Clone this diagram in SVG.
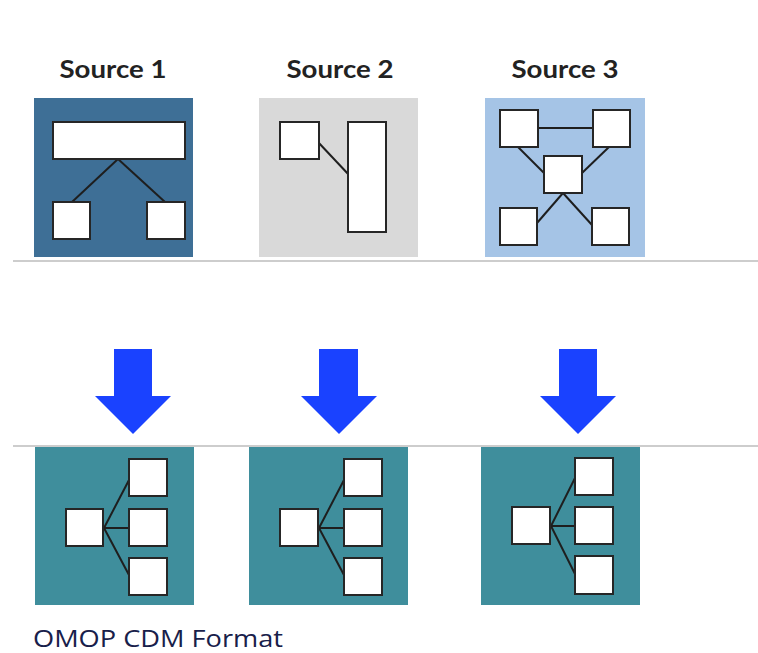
<svg xmlns="http://www.w3.org/2000/svg" width="758" height="653" viewBox="0 0 758 653">
  <defs>
    <style>
      .title { font-family: Lato, "Open Sans", sans-serif; font-weight: bold; font-size: 24px; fill: #222222; text-anchor: middle; }
      .caption { font-family: "Open Sans", "Noto Sans", sans-serif; font-size: 24px; fill: #18204a; }
      .box { fill: #ffffff; stroke: #262626; stroke-width: 2; }
      .link { stroke: #1e1e1e; stroke-width: 2; fill: none; }
      .sep { stroke: #bdbdbd; stroke-width: 1.3; }
      .arrow { fill: #1a42ff; }
      .omop { fill: #3f8e9c; }
    </style>
  </defs>
  <rect width="758" height="653" fill="#ffffff"/>

  <!-- separators -->
  <g id="separators">
    <line class="sep" x1="13" y1="261" x2="758" y2="261"/>
    <line class="sep" x1="13" y1="446" x2="758" y2="446"/>
  </g>

  <!-- Source 1: one wide table with two children -->
  <g id="source1">
    <text class="title" x="113" y="78" textLength="107" lengthAdjust="spacingAndGlyphs">Source 1</text>
    <rect x="34" y="98" width="159" height="159" fill="#3e6f96"/>
    <line class="link" x1="118" y1="159" x2="72" y2="202"/>
    <line class="link" x1="118" y1="159" x2="165" y2="202"/>
    <rect class="box" x="53" y="122" width="132" height="37"/>
    <rect class="box" x="53" y="202" width="37" height="37"/>
    <rect class="box" x="147" y="202" width="38" height="37"/>
  </g>

  <!-- Source 2: small table linked to a tall table -->
  <g id="source2">
    <text class="title" x="340" y="78" textLength="107" lengthAdjust="spacingAndGlyphs">Source 2</text>
    <rect x="259" y="98" width="159" height="159" fill="#d9d9d9"/>
    <line class="link" x1="318" y1="142" x2="349" y2="175"/>
    <rect class="box" x="280" y="122" width="39" height="37"/>
    <rect class="box" x="348" y="122" width="38" height="110"/>
  </g>

  <!-- Source 3: star of five tables -->
  <g id="source3">
    <text class="title" x="565" y="78" textLength="107" lengthAdjust="spacingAndGlyphs">Source 3</text>
    <rect x="485" y="98" width="160" height="159" fill="#a5c4e6"/>
    <line class="link" x1="538" y1="128" x2="593" y2="128"/>
    <line class="link" x1="518" y1="147" x2="544" y2="173"/>
    <line class="link" x1="609" y1="147" x2="582" y2="173"/>
    <line class="link" x1="563" y1="193" x2="537" y2="223"/>
    <line class="link" x1="563" y1="193" x2="592" y2="225"/>
    <rect class="box" x="500" y="110" width="38" height="37"/>
    <rect class="box" x="593" y="110" width="37" height="37"/>
    <rect class="box" x="544" y="156" width="38" height="37"/>
    <rect class="box" x="500" y="208" width="37" height="37"/>
    <rect class="box" x="592" y="208" width="37" height="37"/>
  </g>

  <!-- conversion arrows -->
  <g id="arrows">
    <polygon class="arrow" points="114,349 152,349 152,396 171,396 133,434 95,396 114,396"/>
    <polygon class="arrow" points="319,349 358,349 358,396 377,396 339,434 301,396 319,396"/>
    <polygon class="arrow" points="559,349 597,349 597,396 616,396 578,434 540,396 559,396"/>
  </g>

  <!-- OMOP CDM result: hub with three children -->
  <g id="omop1">
    <rect class="omop" x="35" y="447" width="159" height="158"/>
    <line class="link" x1="104" y1="528" x2="129" y2="480"/>
    <line class="link" x1="104" y1="528" x2="129" y2="528"/>
    <line class="link" x1="104" y1="528" x2="129" y2="575"/>
    <rect class="box" x="66" y="509" width="37" height="37"/>
    <rect class="box" x="129" y="459" width="38" height="37"/>
    <rect class="box" x="129" y="509" width="38" height="37"/>
    <rect class="box" x="129" y="558" width="38" height="37"/>
  </g>

  <g id="omop2">
    <rect class="omop" x="249" y="447" width="159" height="158"/>
    <line class="link" x1="319" y1="528" x2="344" y2="480"/>
    <line class="link" x1="319" y1="528" x2="344" y2="528"/>
    <line class="link" x1="319" y1="528" x2="344" y2="575"/>
    <rect class="box" x="280" y="509" width="38" height="37"/>
    <rect class="box" x="344" y="459" width="38" height="37"/>
    <rect class="box" x="344" y="509" width="38" height="37"/>
    <rect class="box" x="344" y="558" width="38" height="37"/>
  </g>

  <g id="omop3">
    <rect class="omop" x="481" y="447" width="159" height="158"/>
    <line class="link" x1="551" y1="526" x2="575" y2="478"/>
    <line class="link" x1="551" y1="526" x2="575" y2="526"/>
    <line class="link" x1="551" y1="526" x2="575" y2="574"/>
    <rect class="box" x="512" y="507" width="38" height="37"/>
    <rect class="box" x="575" y="458" width="38" height="37"/>
    <rect class="box" x="575" y="507" width="38" height="37"/>
    <rect class="box" x="575" y="556" width="38" height="38"/>
  </g>

  <g id="caption">
    <text class="caption" x="33" y="647" textLength="250" lengthAdjust="spacingAndGlyphs">OMOP CDM Format</text>
  </g>
</svg>
